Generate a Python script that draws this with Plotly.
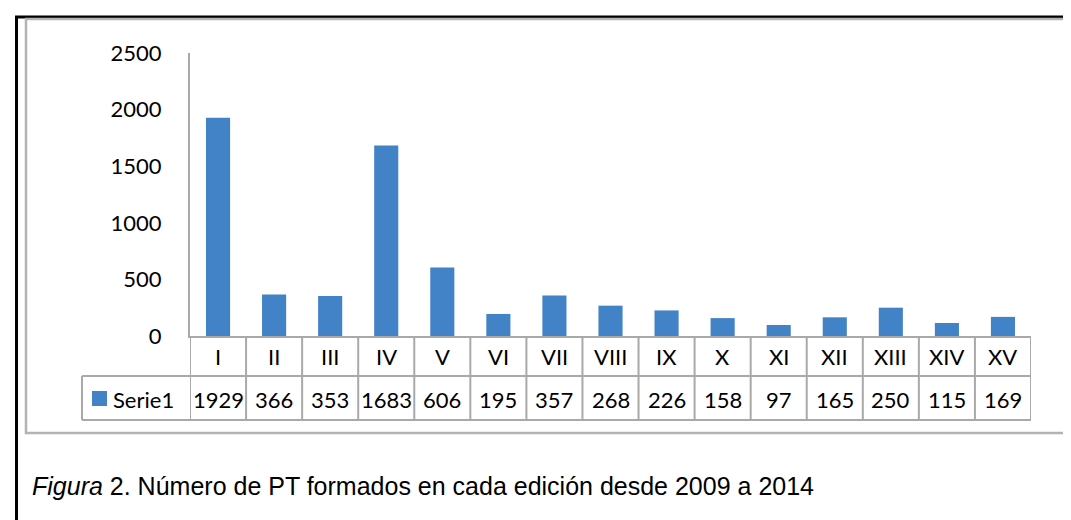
import plotly.graph_objects as go

categories = ["I", "II", "III", "IV", "V", "VI", "VII", "VIII", "IX", "X", "XI", "XII", "XIII", "XIV", "XV"]
serie1 = [1929, 366, 353, 1683, 606, 195, 357, 268, 226, 158, 97, 165, 250, 115, 169]
series_name = "Serie1"
y_ticks = [0, 500, 1000, 1500, 2000, 2500]
caption_italic = "Figura"
caption_rest = " 2. Número de PT formados en cada edición desde 2009 a 2014"

W, H = 1071, 520
L, R, T, B = 182, 48, 45, 192
PW, PH = W - L - R, H - T - B

def px_x(px):
    return (px - L) / PW

def px_y(py):
    return (H - B - py) / PH

GRID = "#a9a9a9"
BAR = "#4282c6"
FONT = "Lato"
FS = 22

fig = go.Figure()
fig.add_trace(go.Bar(
    x=categories, y=serie1, name=series_name,
    marker=dict(color=BAR, line=dict(width=0)),
    width=0.43, showlegend=False, hoverinfo="x+y",
))

shapes = []
# outer black frame (top + left)
shapes.append(dict(type="line", xref="paper", yref="paper",
                   x0=px_x(7), x1=px_x(W + 5), y0=px_y(9), y1=px_y(9),
                   line=dict(color="black", width=3)))
shapes.append(dict(type="line", xref="paper", yref="paper",
                   x0=px_x(8.5), x1=px_x(8.5), y0=px_y(8), y1=px_y(H + 5),
                   line=dict(color="black", width=3)))
# chart area border
shapes.append(dict(type="rect", xref="paper", yref="paper",
                   x0=px_x(18), x1=px_x(1057), y0=px_y(11), y1=px_y(425),
                   line=dict(color="#b3b3b3", width=2.5), fillcolor="rgba(0,0,0,0)"))

row1_bot, row2_bot = px_y(368), px_y(412)
legend_left = px_x(74)
# horizontal table lines
for y in (row1_bot, row2_bot):
    shapes.append(dict(type="line", xref="paper", yref="paper",
                       x0=legend_left, x1=1, y0=y, y1=y,
                       line=dict(color=GRID, width=2)))
# vertical table lines (category boundaries)
for k in range(len(categories) + 1):
    shapes.append(dict(type="line", xref="x", yref="paper",
                       x0=k - 0.5, x1=k - 0.5, y0=0, y1=row2_bot,
                       line=dict(color=GRID, width=2)))
shapes.append(dict(type="line", xref="paper", yref="paper",
                   x0=legend_left, x1=legend_left, y0=row1_bot, y1=row2_bot,
                   line=dict(color=GRID, width=2)))
# legend key
shapes.append(dict(type="rect", xref="paper", yref="paper",
                   x0=px_x(84), x1=px_x(99), y0=px_y(383), y1=px_y(398),
                   line=dict(width=0), fillcolor=BAR))

annotations = []
for c, v in zip(categories, serie1):
    annotations.append(dict(x=c, y=px_y(348), xref="x", yref="paper", text=c,
                            showarrow=False, font=dict(family=FONT, size=FS, color="black"),
                            xanchor="center", yanchor="middle"))
    annotations.append(dict(x=c, y=px_y(391), xref="x", yref="paper", text=str(v),
                            showarrow=False, font=dict(family=FONT, size=FS, color="black"),
                            xanchor="center", yanchor="middle"))
annotations.append(dict(x=px_x(103), y=px_y(391), xref="paper", yref="paper", text=series_name,
                        showarrow=False, font=dict(family=FONT, size=FS, color="black"),
                        xanchor="left", yanchor="middle"))
annotations.append(dict(x=px_x(22), y=px_y(478), xref="paper", yref="paper",
                        text="<i>" + caption_italic + "</i>" + caption_rest,
                        showarrow=False, font=dict(family="Liberation Sans", size=25, color="black"),
                        xanchor="left", yanchor="middle"))

fig.update_layout(
    width=W, height=H,
    margin=dict(l=L, r=R, t=T, b=B, pad=0),
    paper_bgcolor="white", plot_bgcolor="white",
    shapes=shapes, annotations=annotations,
    xaxis=dict(range=[-0.5, len(categories) - 0.5], showticklabels=False, ticks="",
               showgrid=False, zeroline=False, showline=True, linecolor=GRID, linewidth=2,
               fixedrange=True),
    yaxis=dict(range=[0, 2500], tickvals=y_ticks, ticks="outside", ticklen=22,
               tickcolor="rgba(0,0,0,0)", showgrid=False, zeroline=False,
               showline=True, linecolor=GRID, linewidth=2,
               tickfont=dict(family=FONT, size=FS, color="black"), fixedrange=True),
    showlegend=False,
)

fig.write_html("out.html")
